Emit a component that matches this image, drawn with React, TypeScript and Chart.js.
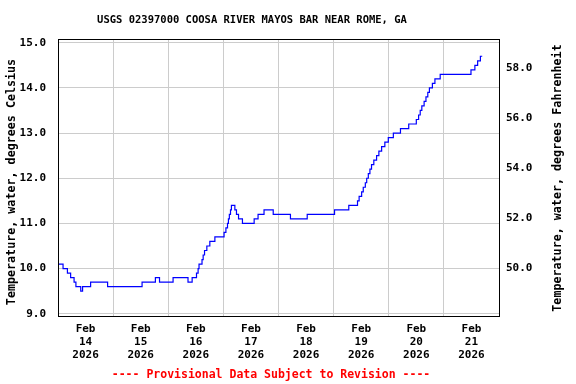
import React, { useEffect, useRef } from "react";
import { Chart, registerables } from "chart.js";

Chart.register(...registerables);

const TITLE = "USGS 02397000 COOSA RIVER MAYOS BAR NEAR ROME, GA";
const FOOTNOTE = "---- Provisional Data Subject to Revision ----";
const LEFT_AXIS_TITLE = "Temperature, water, degrees Celsius";
const RIGHT_AXIS_TITLE = "Temperature, water, degrees Fahrenheit";

// hours since Feb 14 2026 00:00 at which the reading changes
const hoursSinceStart = [
  0, 2.2, 4.1, 5.5, 7.0, 7.8, 9.9, 10.7, 14.2, 21.6, 36.6, 42.4, 44.2, 50.1,
  56.6, 58.4, 60.3, 61.0, 61.4, 62.7, 63.2, 63.8, 64.8, 66.1, 68.3, 72.3, 73.1,
  73.8, 74.2, 74.6, 75.1, 75.5, 77.0, 77.7, 78.6, 80.3, 85.4, 87.1, 89.7, 93.7,
  101.2, 108.5, 120.4, 126.6, 130.4, 131.1, 132.2, 132.9, 133.8, 134.4, 135.1,
  135.8, 136.5, 137.5, 138.7, 139.7, 140.9, 142.3, 143.8, 146.0, 149.1, 152.7,
  156.0, 157.0, 157.7, 158.4, 159.4, 160.2, 161.0, 161.7, 163.0, 164.1, 166.4,
  179.8, 181.5, 182.7, 183.9, 184.7,
];
const waterTempC = [
  10.1, 10.0, 9.9, 9.8, 9.7, 9.6, 9.5, 9.6, 9.7, 9.6, 9.7, 9.8, 9.7, 9.8,
  9.7, 9.8, 9.9, 10.0, 10.1, 10.2, 10.3, 10.4, 10.5, 10.6, 10.7, 10.8, 10.9,
  11.0, 11.1, 11.2, 11.3, 11.4, 11.3, 11.2, 11.1, 11.0, 11.1, 11.2, 11.3, 11.2,
  11.1, 11.2, 11.3, 11.4, 11.5, 11.6, 11.7, 11.8, 11.9, 12.0, 12.1,
  12.2, 12.3, 12.4, 12.5, 12.6, 12.7, 12.8, 12.9, 13.0, 13.1, 13.2,
  13.3, 13.4, 13.5, 13.6, 13.7, 13.8, 13.9, 14.0, 14.1, 14.2, 14.3,
  14.4, 14.5, 14.6, 14.7, 14.7,
];

const dayGridHours = [0, 24, 48, 72, 96, 120, 144, 168, 192];
const dayLabelHours = [12, 36, 60, 84, 108, 132, 156, 180];
const dayLabels = [
  ["Feb", "14", "2026"],
  ["Feb", "15", "2026"],
  ["Feb", "16", "2026"],
  ["Feb", "17", "2026"],
  ["Feb", "18", "2026"],
  ["Feb", "19", "2026"],
  ["Feb", "20", "2026"],
  ["Feb", "21", "2026"],
];
const celsiusTicks = [9, 10, 11, 12, 13, 14, 15];
const fahrenheitTicks = [50, 52, 54, 56, 58];
const C_MIN = 8.95;
const C_MAX = 15.06;
const X_MIN = 0;
const X_MAX = 192;

const toF = (c: number) => (c * 9) / 5 + 32;

const FONT_FAMILY = "'DejaVu Sans Mono', monospace";

const decorPlugin = {
  id: "decor",
  afterDraw(chart: any) {
    const { ctx, chartArea } = chart;
    ctx.save();
    // frame
    ctx.strokeStyle = "#000000";
    ctx.lineWidth = 1;
    ctx.strokeRect(
      Math.round(chartArea.left) + 0.5,
      Math.round(chartArea.top) - 0.5,
      Math.round(chartArea.right - chartArea.left),
      Math.round(chartArea.bottom - chartArea.top) + 1
    );
    // title
    ctx.fillStyle = "#000000";
    ctx.textAlign = "center";
    ctx.textBaseline = "middle";
    ctx.font = `bold 10.5px ${FONT_FAMILY}`;
    ctx.fillText(TITLE, 252, 20);
    // footnote
    ctx.fillStyle = "#ff0000";
    ctx.font = `bold 11.5px ${FONT_FAMILY}`;
    ctx.fillText(FOOTNOTE, 271, 375);
    // axis titles
    ctx.fillStyle = "#000000";
    ctx.font = `bold 11.7px ${FONT_FAMILY}`;
    ctx.save();
    ctx.translate(12, 182);
    ctx.rotate(-Math.PI / 2);
    ctx.fillText(LEFT_AXIS_TITLE, 0, 0);
    ctx.restore();
    ctx.save();
    ctx.translate(558, 178);
    ctx.rotate(-Math.PI / 2);
    ctx.fillText(RIGHT_AXIS_TITLE, 0, 0);
    ctx.restore();
    ctx.restore();
  },
};

export default function App() {
  const canvasRef = useRef<HTMLCanvasElement | null>(null);

  useEffect(() => {
    if (!canvasRef.current) return;
    const tickFont = { family: FONT_FAMILY, size: 11, weight: "bold" as const, lineHeight: 1.18 };
    const chart = new Chart(canvasRef.current, {
      type: "line",
      data: {
        datasets: [
          {
            data: hoursSinceStart.map((h, i) => ({ x: h, y: waterTempC[i] })),
            borderColor: "#0000ff",
            borderWidth: 1.2,
            pointRadius: 0,
            stepped: true,
            fill: false,
            yAxisID: "y",
            xAxisID: "x",
          },
        ],
      },
      options: {
        animation: false,
        responsive: false,
        maintainAspectRatio: false,
        events: [],
        layout: { padding: { top: 40, left: 0, right: 0, bottom: 0 } },
        plugins: {
          legend: { display: false },
          tooltip: { enabled: false },
          title: { display: false },
        },
        scales: {
          x: {
            type: "linear",
            position: "bottom",
            min: X_MIN,
            max: X_MAX,
            afterBuildTicks: (scale: any) => {
              scale.ticks = dayGridHours.map((v) => ({ value: v }));
            },
            afterFit: (scale: any) => {
              scale.height = 0;
            },
            grid: { color: "#cccccc", lineWidth: 1, drawTicks: false },
            border: { display: false },
            ticks: { display: false },
          },
          xLabels: {
            type: "linear",
            position: "bottom",
            min: X_MIN,
            max: X_MAX,
            afterBuildTicks: (scale: any) => {
              scale.ticks = dayLabelHours.map((v) => ({ value: v }));
            },
            afterFit: (scale: any) => {
              scale.height = 68;
            },
            grid: { display: false, drawTicks: false },
            border: { display: false },
            ticks: {
              autoSkip: false,
              maxRotation: 0,
              minRotation: 0,
              padding: 7,
              color: "#000000",
              font: tickFont,
              callback: (_v: any, i: number) => dayLabels[i],
            },
          },
          y: {
            type: "linear",
            position: "left",
            min: C_MIN,
            max: C_MAX,
            afterBuildTicks: (scale: any) => {
              scale.ticks = celsiusTicks.map((v) => ({ value: v }));
            },
            afterFit: (scale: any) => {
              scale.width = 58;
            },
            grid: { color: "#cccccc", lineWidth: 1, drawTicks: false },
            border: { display: false },
            ticks: {
              padding: 12,
              color: "#000000",
              font: tickFont,
              callback: (v: any) => Number(v).toFixed(1),
            },
          },
          yF: {
            type: "linear",
            position: "right",
            min: toF(C_MIN),
            max: toF(C_MAX),
            afterBuildTicks: (scale: any) => {
              scale.ticks = fahrenheitTicks.map((v) => ({ value: v }));
            },
            afterFit: (scale: any) => {
              scale.width = 77;
            },
            grid: { display: false, drawTicks: false },
            border: { display: false },
            ticks: {
              padding: 7,
              color: "#000000",
              font: tickFont,
              callback: (v: any) => Number(v).toFixed(1),
            },
          },
        },
      } as any,
      plugins: [decorPlugin],
    });
    return () => chart.destroy();
  }, []);

  return (
    <div style={{ position: "fixed", left: 0, top: 0, width: 576, height: 384, background: "#ffffff" }}>
      <canvas ref={canvasRef} width={576} height={384} style={{ width: 576, height: 384 }} />
    </div>
  );
}
